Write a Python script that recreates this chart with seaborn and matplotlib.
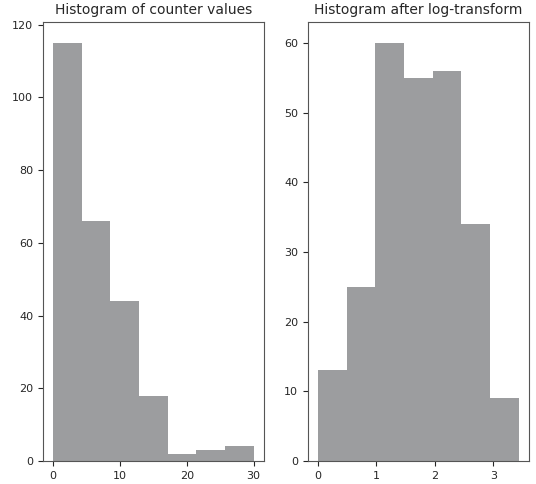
import matplotlib
matplotlib.use("Agg")
import matplotlib.pyplot as plt
import numpy as np
import pandas as pd
import seaborn as sns

sns.set_style("ticks")

# histogram of raw counter values (7 bins over 0..30)
raw_edges = list(np.linspace(0, 30, 8))
raw_counts = [115, 66, 44, 18, 2, 3, 4]

# histogram after log(x + 1) transform (7 bins over 0..log(31))
log_edges = list(np.linspace(0, np.log(31), 8))
log_counts = [13, 25, 60, 55, 56, 34, 9]

BAR_COLOR = "#9c9d9f"

raw_df = pd.DataFrame({
    "value": [(a + b) / 2 for a, b in zip(raw_edges[:-1], raw_edges[1:])],
    "count": raw_counts,
})
log_df = pd.DataFrame({
    "value": [(a + b) / 2 for a, b in zip(log_edges[:-1], log_edges[1:])],
    "count": log_counts,
})

fig = plt.figure(figsize=(5.36, 4.84), dpi=100)
ax0 = fig.add_axes([0.080, 0.0475, 0.412, 0.907])
ax1 = fig.add_axes([0.5746, 0.0475, 0.412, 0.907])

sns.histplot(data=raw_df, x="value", weights="count", bins=raw_edges, ax=ax0,
             color=BAR_COLOR, alpha=1, edgecolor="none", linewidth=0)
sns.histplot(data=log_df, x="value", weights="count", bins=log_edges, ax=ax1,
             color=BAR_COLOR, alpha=1, edgecolor="none", linewidth=0)

ax0.set_title("Histogram of counter values", fontsize=10)
ax1.set_title("Histogram after log-transform", fontsize=10)
ax0.set_xticks([0, 10, 20, 30])
ax1.set_xticks([0, 1, 2, 3])
ax0.set_yticks(range(0, 121, 20))

for ax in (ax0, ax1):
    ax.set_xlabel("")
    ax.set_ylabel("")
    ax.tick_params(labelsize=8, length=3.5)
    for s in ax.spines.values():
        s.set_color("#555555")
        s.set_visible(True)

fig.savefig("out.png", dpi=100)
